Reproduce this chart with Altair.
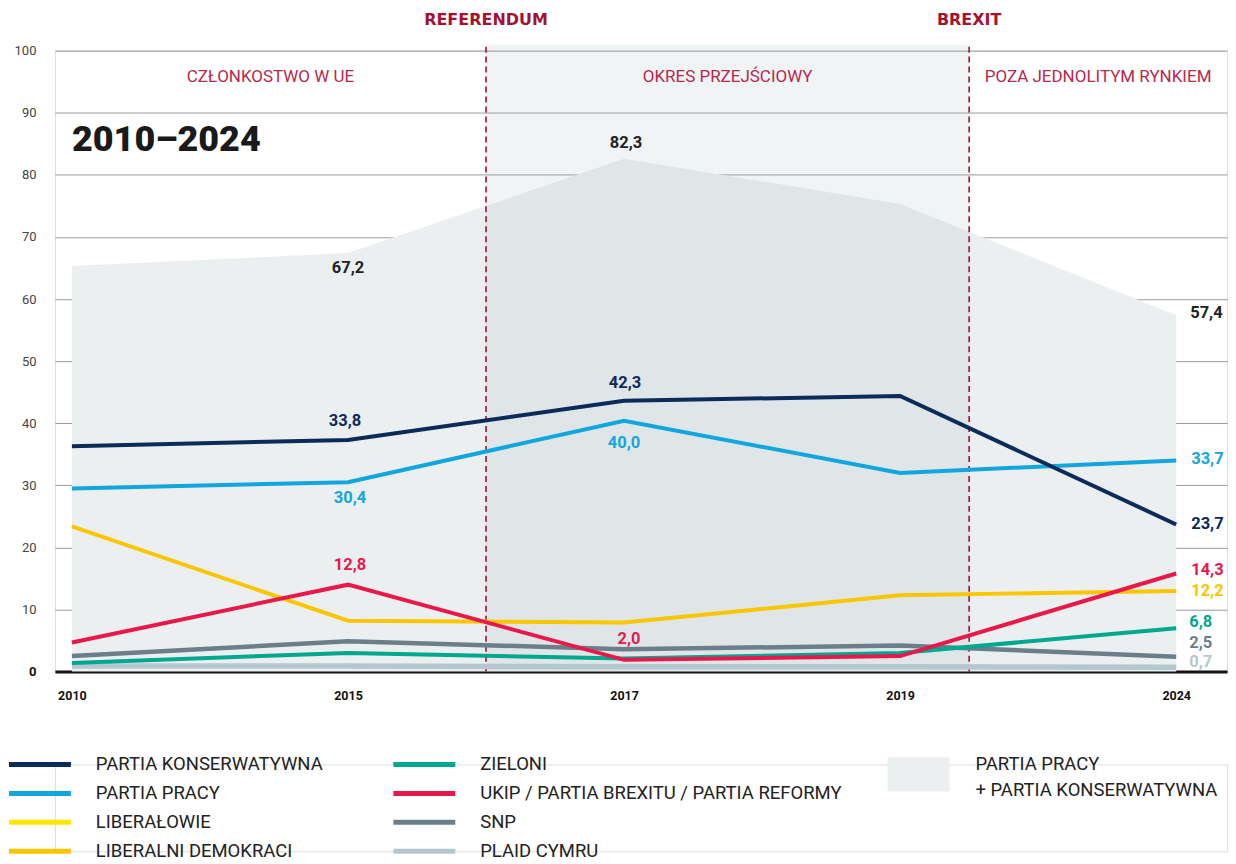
import json
import altair as alt
import pandas as pd

# ---------------- data ----------------
years = ["2010", "2015", "2017", "2019", "2024"]
pos = [0, 1, 2, 3, 4]

con = [36.3, 37.3, 43.6, 44.4, 23.7]
lab = [29.5, 30.5, 40.4, 32.0, 34.0]
libdem = [23.4, 8.2, 7.9, 12.3, 13.0]
green = [1.4, 3.0, 2.1, 3.0, 7.0]
ukip = [4.7, 14.0, 1.9, 2.5, 15.8]
snp = [2.5, 4.9, 3.6, 4.2, 2.4]
plaid = [0.9, 0.9, 0.8, 0.8, 0.7]
lab_con = [65.3, 67.4, 82.6, 75.3, 57.4]

area_labels = ["", "67,2", "82,3", "", "57,4"]
con_labels = ["", "33,8", "42,3", "", "23,7"]
lab_labels = ["", "30,4", "40,0", "", "33,7"]
ukip_labels = ["", "12,8", "2,0", "", "14,3"]
libdem_labels = ["", "", "", "", "12,2"]
green_labels = ["", "", "", "", "6,8"]
snp_labels = ["", "", "", "", "2,5"]
plaid_labels = ["", "", "", "", "0,7"]

event_names = ["REFERENDUM", "BREXIT"]
event_pos = [1.5, 3.25]
period_names = ["CZŁONKOSTWO W UE", "OKRES PRZEJŚCIOWY", "POZA JEDNOLITYM RYNKIEM"]

legend1_names = ["PARTIA KONSERWATYWNA", "PARTIA PRACY", "LIBERAŁOWIE", "LIBERALNI DEMOKRACI"]
legend2_names = ["ZIELONI", "UKIP / PARTIA BREXITU / PARTIA REFORMY", "SNP", "PLAID CYMRU"]
legend3_lines = ["PARTIA PRACY", "+ PARTIA KONSERWATYWNA"]

# ---------------- styles ----------------
C_CON = "#0b2b5a"
C_LAB = "#12a6df"
C_LIBERAL = "#ffe600"
C_LD = "#fac600"
C_GREEN = "#00a88f"
C_UKIP = "#e8194a"
C_SNP = "#6a7f8a"
C_PLAID = "#b4c6ce"
C_AREA = "#eceff0"
C_EVENT = "#a3122f"
C_PERIOD = "#b8284c"
FONT = "Roboto"

W, H = 1174, 622
XMIN, XMAX = -0.0615, 4.184
YMAX_BAND = 101

xscale = alt.Scale(domain=[XMIN, XMAX], nice=False, zero=False)
yscale = alt.Scale(domain=[0, 100], nice=False)
xaxis = alt.Axis(
    values=pos,
    labelExpr=f"{json.dumps(years)}[datum.value]",
    title=None, grid=False, ticks=False, domain=True,
    domainColor="#111111", domainWidth=3,
    labelFont=FONT, labelFontSize=12.5, labelFontWeight="bold",
    labelColor="#111111", labelPadding=18,
)
yaxis = alt.Axis(
    values=list(range(0, 101, 10)), title=None, grid=True,
    gridColor="#9a9a9a", gridWidth=1, domain=False, ticks=False,
    labelFont=FONT, labelFontSize=13, labelPadding=19,
    labelColor=alt.condition("datum.value == 0", alt.value("#111111"), alt.value("#444444")),
    labelFontWeight=alt.condition("datum.value == 0", alt.value("bold"), alt.value("normal")),
)


def X(field="i"):
    return alt.X(f"{field}:Q", scale=xscale, axis=xaxis)


def Y(field="v"):
    return alt.Y(f"{field}:Q", scale=yscale, axis=yaxis)


layers = []

# area: Labour + Conservative
area_df = pd.DataFrame({"i": pos, "v": lab_con})
layers.append(alt.Chart(area_df).mark_area(color=C_AREA, opacity=1).encode(x=X(), y=Y()))

# transition-period band
band_df = pd.DataFrame({"i": [event_pos[0]], "i2": [event_pos[1]], "v": [0], "v2": [YMAX_BAND]})
layers.append(
    alt.Chart(band_df).mark_rect(color="#9bb0b7", opacity=0.14).encode(
        x=X(), x2="i2:Q", y=Y(), y2="v2:Q"
    )
)

# event dashed rules + labels
ev_df = pd.DataFrame({"i": event_pos, "v": [0, 0], "v2": [YMAX_BAND, YMAX_BAND], "name": event_names})
layers.append(
    alt.Chart(ev_df).mark_rule(color=C_EVENT, strokeWidth=1.6, strokeDash=[6, 4]).encode(
        x=X(), y=Y(), y2="v2:Q"
    )
)
layers.append(
    alt.Chart(ev_df).mark_text(
        color=C_EVENT, font="DejaVu Sans", fontWeight="bold", fontSize=16,
        dy=-24, baseline="middle", align="center"
    ).encode(x=X(), y=alt.Y("v2:Q", scale=yscale, axis=yaxis), text="name:N")
)

# period labels (centred in each period)
edges = [XMIN] + event_pos + [XMAX]
per_df = pd.DataFrame({
    "i": [(edges[k] + edges[k + 1]) / 2 for k in range(3)],
    "v": [100, 100, 100],
    "name": period_names,
})
layers.append(
    alt.Chart(per_df).mark_text(
        color=C_PERIOD, font=FONT, fontSize=17, dy=26, baseline="middle", align="center"
    ).encode(x=X(), y=Y(), text="name:N")
)

# title inside plot
layers.append(
    alt.Chart(pd.DataFrame({"t": ["2010–2024"]})).mark_text(
        font=FONT, fontSize=36, fontWeight=900, color="#1a1a1a", align="left", baseline="middle"
    ).encode(x=alt.value(17), y=alt.value(90), text="t:N")
)

# lines
series = [
    (plaid, C_PLAID, 5.5),
    (snp, C_SNP, 4.5),
    (green, C_GREEN, 4),
    (libdem, C_LD, 4),
    (ukip, C_UKIP, 4),
    (lab, C_LAB, 4),
    (con, C_CON, 4),
]
for vals, col, sw in series:
    df = pd.DataFrame({"i": pos, "v": vals})
    layers.append(
        alt.Chart(df).mark_line(color=col, strokeWidth=sw, strokeJoin="miter", strokeCap="butt").encode(
            x=X(), y=Y()
        )
    )

# value labels
label_sets = [
    (lab_con, area_labels, "#222222"),
    (con, con_labels, C_CON),
    (lab, lab_labels, C_LAB),
    (ukip, ukip_labels, C_UKIP),
    (libdem, libdem_labels, C_LD),
    (green, green_labels, C_GREEN),
    (snp, snp_labels, C_SNP),
    (plaid, plaid_labels, C_PLAID),
]
offsets = {
    ("#222222", 1): (0, 15), ("#222222", 2): (2, -16), ("#222222", 4): (14, -2),
    (C_CON, 1): (-3, -19), (C_CON, 2): (1, -18), (C_CON, 4): (15, 0),
    (C_LAB, 1): (2, 16), (C_LAB, 2): (0, 22), (C_LAB, 4): (15, -1.5),
    (C_UKIP, 1): (2, -20), (C_UKIP, 2): (5, -21), (C_UKIP, 4): (15, -3),
    (C_LD, 4): (15, 0), (C_GREEN, 4): (13, -6), (C_SNP, 4): (13, -14), (C_PLAID, 4): (13, -5),
}
for vals, texts, col in label_sets:
    for k, t in enumerate(texts):
        if not t:
            continue
        dx, dy = offsets[(col, k)]
        df = pd.DataFrame({"i": [pos[k]], "v": [vals[k]], "t": [t]})
        layers.append(
            alt.Chart(df).mark_text(
                font=FONT, fontSize=16.5, fontWeight="bold", color=col,
                align="left" if k == 4 else "center", baseline="middle", dx=dx, dy=dy
            ).encode(x=X(), y=Y(), text="t:N")
        )

main = alt.layer(*layers).properties(width=W, height=H)

# ---------------- legend (one panel, aligned under the plot) ----------------
ROW_PX = 29
rowscale = alt.Scale(domain=[0, 3], reverse=True)
LEG_FS = 18.5
LX = -46  # left edge of the legend, relative to the plot's left edge
HALF = 2.5 / ROW_PX  # half swatch thickness in row units


def legend_column(names, colors, x0):
    df = pd.DataFrame({"row": list(range(len(names))), "name": names, "color": colors})
    sw = alt.Chart(df).transform_calculate(
        r1=f"datum.row - {HALF}", r2=f"datum.row + {HALF}"
    ).mark_rect().encode(
        x=alt.value(x0), x2=alt.value(x0 + 62),
        y=alt.Y("r1:Q", scale=rowscale, axis=None), y2="r2:Q",
        color=alt.Color("color:N", scale=None),
    )
    tx = alt.Chart(df).mark_text(
        align="left", baseline="middle", fontSize=LEG_FS, font=FONT, color="#222222"
    ).encode(x=alt.value(x0 + 87), y=alt.Y("row:Q", scale=rowscale, axis=None), text="name:N")
    return [sw, tx]


leg_layers = []
leg_layers += legend_column(legend1_names, [C_CON, C_LAB, C_LIBERAL, C_LD], LX)
leg_layers += legend_column(legend2_names, [C_GREEN, C_UKIP, C_SNP, C_PLAID], LX + 385)

l3_text = pd.DataFrame({"row": [0, 26 / ROW_PX], "name": legend3_lines})
leg_layers.append(
    alt.Chart(pd.DataFrame({"row": [0]})).mark_rect(color=C_AREA).encode(
        x=alt.value(LX + 880), x2=alt.value(LX + 942), y=alt.value(-7), y2=alt.value(27)
    )
)
leg_layers.append(
    alt.Chart(l3_text).mark_text(
        align="left", baseline="middle", fontSize=LEG_FS, font=FONT, color="#222222"
    ).encode(x=alt.value(LX + 968), y=alt.Y("row:Q", scale=rowscale, axis=None), text="name:N")
)
legend = alt.layer(*leg_layers).properties(width=W, height=87)

chart = alt.vconcat(main, legend, spacing=52).properties(
    padding={"left": 0, "top": 3, "right": 0, "bottom": 0}
).configure_view(strokeWidth=0, stroke="transparent").configure(font=FONT)

chart.save("out.html", embed_options={"renderer": "svg", "actions": False})
